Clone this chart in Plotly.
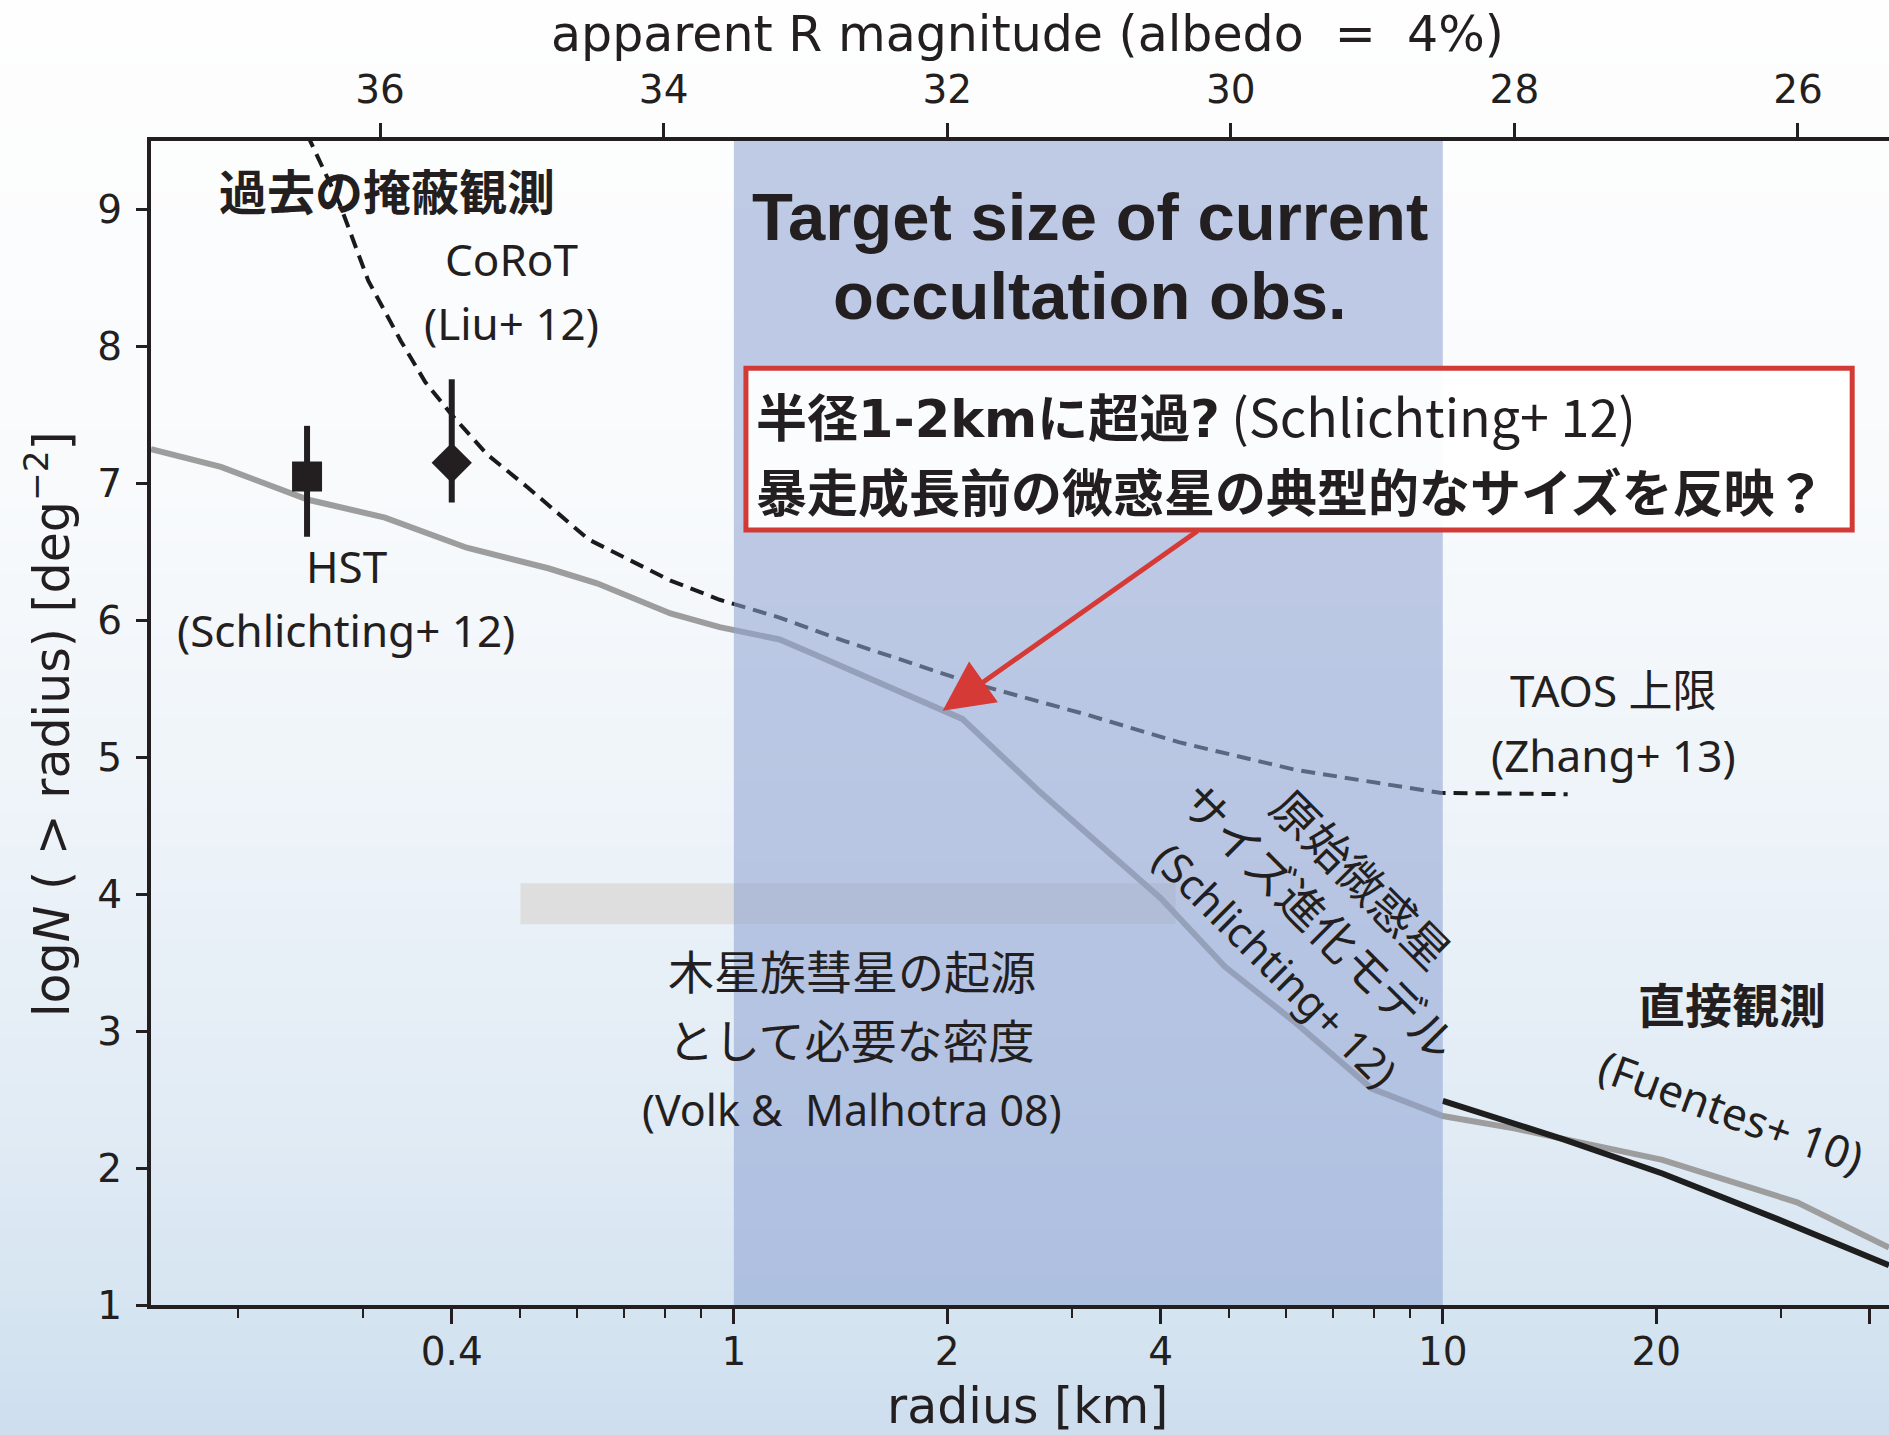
import numpy as np
import plotly.graph_objects as go

# ---------------------------------------------------------------- data
# Schlichting+12 size-evolution model of primordial planetesimals (grey)
model_radius = [0.1506, 0.189, 0.251, 0.322, 0.420, 0.547, 0.641, 0.814, 0.955,
                1.16, 1.288, 1.955, 2.10, 2.71, 3.15, 4.0, 4.93, 6.17, 7.94,
                10.0, 12.6, 14.8, 20.4, 31.6, 42.6]
model_logn = [7.25, 7.12, 6.88, 6.75, 6.53, 6.38, 6.27, 6.05, 5.95,
              5.86, 5.76, 5.35, 5.28, 4.74, 4.44, 3.97, 3.47, 3.07, 2.58,
              2.38, 2.29, 2.21, 2.06, 1.75, 1.42]

# Occultation upper limit (TAOS, Zhang+13), dashed
limit_radius = [0.25, 0.278, 0.305, 0.339, 0.367, 0.40, 0.449, 0.512, 0.624,
                0.814, 0.955, 1.16, 1.43, 2.14, 3.15, 4.24, 6.17, 9.9, 15.0]
limit_logn = [9.55, 9.04, 8.48, 8.04, 7.74, 7.50, 7.21, 6.97, 6.59,
              6.29, 6.15, 6.02, 5.85, 5.55, 5.31, 5.11, 4.91, 4.74, 4.73]

# Direct observation (Fuentes+10)
direct_radius = [10.0, 14.8, 20.4, 29.9, 42.6]
direct_logn = [2.49, 2.21, 1.96, 1.62, 1.29]

# Occultation detections
hst_radius = [0.25]
hst_logn = [7.05]
hst_err_up = [0.37]
hst_err_down = [0.44]

corot_radius = [0.40]
corot_logn = [7.15]
corot_err_up = [0.61]
corot_err_down = [0.29]

# Density required for Jupiter-family comets (Volk & Malhotra 08)
jfc_radius = [0.5, 4.2]
jfc_logn = [3.78, 4.08]

# Target size range of current occultation surveys
target_radius = [1.0, 10.0]

# Highlight box (radius / logN extent)
box_radius = [1.04, 37.8]
box_logn = [6.66, 7.84]

# Arrow from the highlight box to the model curve
arrow_tail = (4.53, 6.66)
arrow_head = (1.97, 5.34)

# Axes
R_MIN, R_MAX = 0.1506, 42.6
Y_MIN, Y_MAX = 1.0, 9.5
MAG_AT_1KM = 33.505          # apparent R magnitude of a 1 km body (albedo 4%)

x_major_ticks = [0.4, 1, 2, 4, 10, 20, 40]
x_major_labels = ["0.4", "1", "2", "4", "10", "20", ""]
x_minor_ticks = [0.2, 0.3, 0.5, 0.6, 0.7, 0.8, 0.9, 3, 5, 6, 7, 8, 9, 30]
y_ticks = [1, 2, 3, 4, 5, 6, 7, 8, 9]
mag_ticks = [36, 34, 32, 30, 28, 26]

# ---------------------------------------------------------------- layout constants
FIG_W, FIG_H = 1889, 1435
ML, MR, MT, MB = 151, 0, 141, 130
PW, PH = FIG_W - ML - MR, FIG_H - MT - MB

INK = "#231f20"
TICK_FONT = dict(family="DejaVu Sans", size=39, color=INK)
LBL = "Noto Sans, Noto Sans CJK JP, sans-serif"
JP = "Noto Sans CJK JP, Noto Sans, sans-serif"

fig = go.Figure()

# grey model curve
fig.add_trace(go.Scatter(x=model_radius, y=model_logn, mode="lines",
                         line=dict(color="#9d9d9d", width=6), hoverinfo="skip"))
# dashed upper limit
fig.add_trace(go.Scatter(x=limit_radius, y=limit_logn, mode="lines",
                         line=dict(color="#1a1a1a", width=4, dash="14px,8px"),
                         hoverinfo="skip"))
# Fuentes+10 direct observation
fig.add_trace(go.Scatter(x=direct_radius, y=direct_logn, mode="lines",
                         line=dict(color="#1e1e1e", width=6), hoverinfo="skip"))
# HST detection
fig.add_trace(go.Scatter(x=hst_radius, y=hst_logn, mode="markers",
                         marker=dict(symbol="square", size=30, color=INK),
                         error_y=dict(type="data", symmetric=False, array=hst_err_up,
                                      arrayminus=hst_err_down, thickness=6, width=0,
                                      color=INK),
                         hoverinfo="skip"))
# CoRoT detection
fig.add_trace(go.Scatter(x=corot_radius, y=corot_logn, mode="markers",
                         marker=dict(symbol="diamond", size=31, color=INK),
                         error_y=dict(type="data", symmetric=False, array=corot_err_up,
                                      arrayminus=corot_err_down, thickness=6, width=0,
                                      color=INK),
                         hoverinfo="skip"))
# carrier for the magnitude axis on top
fig.add_trace(go.Scatter(x=mag_ticks, y=[None] * len(mag_ticks), xaxis="x2",
                         mode="lines", hoverinfo="skip"))

shapes = []

# soft background gradient behind the whole figure
stops_px = np.array([0, 500, 800, 1100, 1300, 1435], dtype=float)
stops_rgb = np.array([[254, 254, 254], [248, 250, 252], [238, 244, 249],
                      [226, 236, 245], [214, 229, 241], [205, 222, 238]], dtype=float)
n_strip = 90
edges = np.linspace(0, FIG_H, n_strip + 1)
for i in range(n_strip):
    mid = 0.5 * (edges[i] + edges[i + 1])
    rgb = [int(round(np.interp(mid, stops_px, stops_rgb[:, k]))) for k in range(3)]
    top_py, bot_py = edges[i], edges[i + 1] + 1
    shapes.append(dict(type="rect", xref="paper", yref="paper", layer="below",
                       x0=-ML / PW, x1=1 + (MR + 2) / PW,
                       y0=(FIG_H - MB - bot_py) / PH, y1=(FIG_H - MB - top_py) / PH,
                       line=dict(width=0), fillcolor=f"rgb({rgb[0]},{rgb[1]},{rgb[2]})"))

# Jupiter-family comet density band
shapes.append(dict(type="rect", xref="x", yref="y", layer="below",
                   x0=jfc_radius[0], x1=jfc_radius[1], y0=jfc_logn[0], y1=jfc_logn[1],
                   line=dict(width=0), fillcolor="rgba(222,222,222,1)"))
# target size band
shapes.append(dict(type="rect", xref="x", yref="paper", layer="above",
                   x0=target_radius[0], x1=target_radius[1], y0=0, y1=1,
                   line=dict(width=0), fillcolor="rgba(143,163,211,0.56)"))
# highlight box
shapes.append(dict(type="rect", xref="x", yref="y", layer="above",
                   x0=box_radius[0], x1=box_radius[1], y0=box_logn[0], y1=box_logn[1],
                   line=dict(color="#d23a35", width=5),
                   fillcolor="rgba(255,255,255,0.94)"))

annotations = []


def label(text, r, y, size, family=LBL, angle=0, xanchor="center", bold=False):
    if bold:
        text = f"<b>{text}</b>"
    annotations.append(dict(text=text, x=np.log10(r), y=y, xref="x", yref="y",
                            showarrow=False, textangle=angle, xanchor=xanchor,
                            yanchor="middle",
                            font=dict(family=family, size=size, color=INK)))


label("過去の掩蔽観測", 0.324, 9.15, 48, family=JP, bold=True)
label("CoRoT", 0.485, 8.64, 44)
label("(Liu+ 12)", 0.485, 8.17, 44)
label("HST", 0.284, 6.40, 44)
label("(Schlichting+ 12)", 0.284, 5.93, 44)
label("Target size of current", 3.18, 8.95, 67, family="Liberation Sans", bold=True)
label("occultation obs.", 3.18, 8.37, 67, family="Liberation Sans", bold=True)
label("TAOS 上限", 17.4, 5.49, 44)
label("(Zhang+ 13)", 17.4, 5.02, 44)
label("木星族彗星の起源", 1.467, 3.45, 46, family=JP)
label("として必要な密度", 1.467, 2.95, 46, family=JP)
label("(Volk &  Malhotra 08)", 1.467, 2.43, 43)
label("直接観測", 25.6, 3.21, 47, family=JP, bold=True)
label("(Fuentes+ 10)", 25.5, 2.42, 44, angle=20)
label("原始微惑星<br>サイズ進化モデル<br><span style='font-size:42px'>(Schlichting+ 12)</span>",
      6.71, 3.80, 46, angle=45)
label("<b>半径<span style='font-family:DejaVu Sans'>1-2km</span>に超過"
      "<span style='font-family:DejaVu Sans'>?</span></b>"
      " <span style='font-size:52px'>(Schlichting+ 12)</span>",
      1.068, 7.50, 51, family=JP, xanchor="left")
label("<b>暴走成長前の微惑星の典型的なサイズを反映？</b>", 1.068, 6.95, 51,
      family=JP, xanchor="left")

# arrow from the box to the model curve
annotations.append(dict(text="", x=np.log10(arrow_head[0]), y=arrow_head[1],
                        ax=np.log10(arrow_tail[0]), ay=arrow_tail[1],
                        xref="x", yref="y", axref="x", ayref="y",
                        showarrow=True, arrowhead=2, arrowsize=2.0, arrowwidth=5,
                        arrowcolor="#d63a36", standoff=0))

# axis titles
AX_TITLE = dict(family="DejaVu Sans", size=49, color=INK)
annotations.append(dict(text="log<i>N</i> ( > radius) [deg<sup>−2</sup>]",
                        xref="paper", yref="paper", x=(48 - ML) / PW,
                        y=(FIG_H - MB - 724) / PH, textangle=-90, showarrow=False,
                        xanchor="center", yanchor="middle", font=AX_TITLE))
annotations.append(dict(text="radius [km]", xref="paper", yref="paper",
                        x=(1027 - ML) / PW, y=(FIG_H - MB - 1406) / PH,
                        showarrow=False, xanchor="center", yanchor="middle",
                        font=AX_TITLE))
annotations.append(dict(text="apparent R magnitude (albedo  =  4%)",
                        xref="paper", yref="paper",
                        x=(1027 - ML) / PW, y=(FIG_H - MB - 34) / PH,
                        showarrow=False, xanchor="center", yanchor="middle",
                        font=AX_TITLE))

mag_range = [MAG_AT_1KM - 5 * np.log10(R_MIN), MAG_AT_1KM - 5 * np.log10(R_MAX)]

fig.update_layout(
    width=FIG_W, height=FIG_H,
    margin=dict(l=ML, r=MR, t=MT, b=MB, pad=0),
    paper_bgcolor="white", plot_bgcolor="rgba(0,0,0,0)",
    showlegend=False,
    shapes=shapes, annotations=annotations,
    xaxis=dict(type="log", range=[np.log10(R_MIN), np.log10(R_MAX)],
               tickmode="array", tickvals=x_major_ticks, ticktext=x_major_labels,
               ticks="outside", ticklen=15, tickwidth=3, tickcolor=INK,
               minor=dict(tickmode="array", tickvals=x_minor_ticks, ticks="outside",
                          ticklen=9, tickwidth=2, tickcolor=INK),
               showline=True, linewidth=4, linecolor=INK, showgrid=False,
               zeroline=False, tickfont=TICK_FONT, ticklabelstandoff=-6),
    xaxis2=dict(overlaying="x", side="top", anchor="y", range=mag_range,
                tickmode="array", tickvals=mag_ticks,
                ticktext=[str(m) for m in mag_ticks],
                ticks="outside", ticklen=14, tickwidth=3, tickcolor=INK,
                showline=True, linewidth=4, linecolor=INK, showgrid=False,
                zeroline=False, tickfont=TICK_FONT, ticklabelstandoff=4),
    yaxis=dict(range=[Y_MIN, Y_MAX], tickmode="array", tickvals=y_ticks,
               ticks="outside", ticklen=11, tickwidth=3, tickcolor=INK,
               showline=True, linewidth=4, linecolor=INK, showgrid=False,
               zeroline=False, tickfont=TICK_FONT, ticklabelstandoff=6),
)

fig.write_html("out.html")
